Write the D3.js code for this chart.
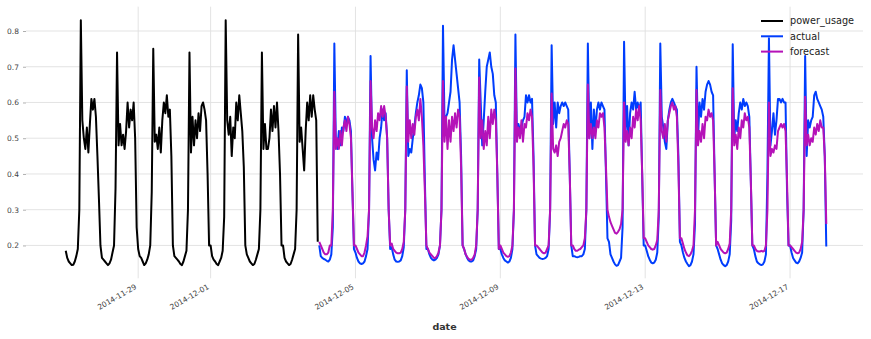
<!DOCTYPE html>
<html><head><meta charset="utf-8">
<script src="https://cdn.jsdelivr.net/npm/d3@7"></script>
<style>body{margin:0;background:#fff} svg{display:block}</style>
</head><body><svg id="c" width="871" height="339"></svg>
<script>
// ---------- data (hourly readings) ----------
const powerStart = "2014-11-27T00:00:00Z";
const forecastStart = "2014-12-04T00:00:00Z";

const powerUsage = [
0.185,0.165,0.155,0.15,0.145,0.146,0.155,0.17,0.19,0.3,0.83,0.55,0.5,0.47,0.53,0.46,0.54,0.61,0.58,0.61,0.56,0.45,0.33,0.2,
0.165,0.16,0.155,0.15,0.145,0.15,0.16,0.18,0.2,0.36,0.74,0.48,0.54,0.48,0.51,0.47,0.52,0.6,0.53,0.58,0.55,0.6,0.5,0.25,
0.19,0.17,0.165,0.155,0.145,0.15,0.16,0.175,0.2,0.35,0.75,0.49,0.51,0.47,0.53,0.46,0.55,0.6,0.57,0.62,0.56,0.58,0.45,0.2,
0.17,0.165,0.16,0.155,0.148,0.145,0.155,0.17,0.185,0.3,0.74,0.46,0.56,0.48,0.55,0.5,0.57,0.52,0.59,0.6,0.58,0.55,0.4,0.2,
0.2,0.17,0.16,0.155,0.148,0.145,0.155,0.165,0.185,0.28,0.83,0.55,0.51,0.56,0.45,0.53,0.5,0.6,0.55,0.62,0.57,0.52,0.42,0.2,
0.175,0.165,0.155,0.15,0.145,0.148,0.16,0.175,0.19,0.3,0.74,0.47,0.54,0.47,0.47,0.5,0.58,0.52,0.59,0.53,0.6,0.52,0.4,0.2,
0.2,0.165,0.155,0.15,0.145,0.148,0.16,0.175,0.19,0.3,0.79,0.49,0.53,0.47,0.41,0.52,0.6,0.55,0.62,0.56,0.62,0.58,0.55,0.21
];

const actual = [
0.2,0.17,0.165,0.162,0.16,0.157,0.155,0.16,0.175,0.25,0.765,0.49,0.47,0.52,0.48,0.53,0.52,0.56,0.54,0.56,0.55,0.52,0.35,0.19,
0.18,0.165,0.155,0.15,0.148,0.15,0.155,0.17,0.19,0.3,0.73,0.5,0.44,0.41,0.46,0.44,0.5,0.53,0.58,0.55,0.57,0.5,0.3,0.19,
0.195,0.175,0.16,0.155,0.154,0.155,0.158,0.17,0.195,0.3,0.69,0.45,0.47,0.46,0.5,0.53,0.57,0.6,0.62,0.65,0.64,0.6,0.38,0.19,
0.19,0.175,0.165,0.16,0.158,0.16,0.165,0.175,0.2,0.3,0.815,0.55,0.56,0.57,0.6,0.63,0.72,0.76,0.72,0.68,0.64,0.6,0.45,0.2,
0.19,0.175,0.165,0.158,0.155,0.155,0.158,0.17,0.19,0.3,0.72,0.6,0.48,0.55,0.63,0.7,0.72,0.74,0.7,0.68,0.62,0.6,0.4,0.19,
0.19,0.175,0.165,0.158,0.155,0.152,0.155,0.165,0.19,0.3,0.79,0.5,0.54,0.52,0.53,0.55,0.56,0.62,0.6,0.62,0.6,0.61,0.45,0.2,
0.175,0.17,0.165,0.163,0.162,0.163,0.165,0.17,0.19,0.3,0.76,0.54,0.6,0.53,0.6,0.57,0.59,0.6,0.59,0.6,0.59,0.58,0.4,0.2,
0.17,0.17,0.168,0.167,0.168,0.17,0.17,0.175,0.19,0.3,0.765,0.5,0.6,0.47,0.58,0.52,0.58,0.6,0.58,0.6,0.59,0.58,0.4,0.22,
0.21,0.175,0.165,0.155,0.147,0.143,0.145,0.155,0.165,0.25,0.77,0.52,0.59,0.48,0.57,0.6,0.58,0.63,0.58,0.6,0.58,0.6,0.4,0.2,
0.2,0.185,0.17,0.16,0.152,0.15,0.152,0.16,0.18,0.28,0.765,0.56,0.53,0.49,0.47,0.55,0.58,0.6,0.61,0.6,0.59,0.58,0.45,0.21,
0.2,0.18,0.165,0.155,0.148,0.142,0.145,0.155,0.175,0.26,0.7,0.5,0.6,0.56,0.61,0.58,0.63,0.65,0.66,0.65,0.63,0.62,0.4,0.2,
0.19,0.175,0.16,0.15,0.145,0.142,0.145,0.155,0.175,0.27,0.763,0.5,0.55,0.52,0.57,0.6,0.58,0.61,0.59,0.6,0.59,0.56,0.38,0.2,
0.19,0.17,0.155,0.15,0.147,0.145,0.147,0.155,0.175,0.4,0.78,0.48,0.52,0.57,0.51,0.55,0.61,0.61,0.6,0.61,0.6,0.6,0.35,0.2,
0.2,0.18,0.165,0.158,0.152,0.15,0.155,0.165,0.18,0.3,0.73,0.45,0.55,0.53,0.55,0.56,0.62,0.63,0.61,0.6,0.59,0.58,0.56,0.45,
0.197
];

const forecast = [
0.21,0.2,0.19,0.18,0.175,0.175,0.18,0.2,0.2,0.3,0.63,0.47,0.5,0.47,0.52,0.48,0.53,0.55,0.52,0.56,0.54,0.5,0.35,0.2,
0.2,0.19,0.18,0.175,0.17,0.17,0.18,0.2,0.225,0.3,0.66,0.53,0.5,0.55,0.52,0.57,0.55,0.59,0.56,0.59,0.56,0.5,0.3,0.2,
0.205,0.19,0.185,0.18,0.178,0.178,0.18,0.19,0.21,0.3,0.645,0.49,0.55,0.5,0.54,0.51,0.56,0.58,0.55,0.61,0.56,0.48,0.35,0.2,
0.19,0.18,0.175,0.17,0.165,0.165,0.17,0.18,0.2,0.3,0.66,0.49,0.56,0.47,0.55,0.49,0.56,0.52,0.57,0.53,0.58,0.56,0.42,0.2,
0.19,0.175,0.168,0.162,0.16,0.16,0.165,0.175,0.2,0.3,0.67,0.5,0.55,0.47,0.52,0.48,0.56,0.5,0.58,0.54,0.58,0.55,0.4,0.19,
0.2,0.19,0.18,0.175,0.17,0.168,0.17,0.18,0.2,0.3,0.695,0.49,0.53,0.5,0.55,0.49,0.54,0.53,0.57,0.55,0.58,0.56,0.42,0.2,
0.2,0.195,0.19,0.185,0.18,0.178,0.18,0.19,0.2,0.3,0.625,0.47,0.46,0.48,0.45,0.49,0.5,0.52,0.54,0.53,0.55,0.54,0.4,0.2,
0.2,0.19,0.185,0.185,0.188,0.19,0.195,0.2,0.22,0.3,0.65,0.5,0.54,0.5,0.53,0.5,0.55,0.53,0.57,0.56,0.57,0.53,0.42,0.3,
0.28,0.265,0.255,0.245,0.235,0.233,0.238,0.245,0.26,0.3,0.6,0.49,0.52,0.48,0.53,0.5,0.56,0.53,0.58,0.55,0.59,0.55,0.4,0.22,
0.22,0.21,0.2,0.195,0.19,0.188,0.19,0.2,0.215,0.3,0.635,0.52,0.5,0.54,0.49,0.55,0.57,0.59,0.6,0.58,0.59,0.56,0.42,0.22,
0.22,0.205,0.19,0.18,0.172,0.17,0.175,0.185,0.2,0.3,0.635,0.48,0.52,0.49,0.54,0.5,0.56,0.55,0.58,0.56,0.57,0.55,0.4,0.2,
0.21,0.2,0.19,0.185,0.18,0.178,0.18,0.19,0.205,0.3,0.64,0.48,0.51,0.47,0.53,0.5,0.55,0.53,0.57,0.55,0.56,0.53,0.38,0.2,
0.2,0.19,0.185,0.183,0.183,0.185,0.183,0.185,0.2,0.3,0.6,0.45,0.47,0.46,0.48,0.47,0.52,0.53,0.54,0.53,0.54,0.52,0.38,0.2,
0.2,0.195,0.19,0.185,0.18,0.178,0.18,0.19,0.21,0.3,0.616,0.48,0.51,0.48,0.5,0.49,0.53,0.51,0.54,0.52,0.55,0.53,0.53,0.45,
0.26
];

const xTickLabels = ["2014-11-29","2014-12-01","2014-12-05","2014-12-09","2014-12-13","2014-12-17"];
const yTickValues = [0.2,0.3,0.4,0.5,0.6,0.7,0.8];
const seriesNames = ["power_usage","actual","forecast"];
const seriesColors = ["#000000","#003DFD","#b512b8"];
const xAxisTitle = "date";

// ---------- layout ----------
const L = 26, R = 863, T = 6.7, B = 278.3;
const svg = d3.select("#c");
const HOUR = 3600e3;
const toPts = (start, vals) => { const t0 = +new Date(start); return vals.map((v,i)=>({t:new Date(t0+i*HOUR), v})); };
const seriesData = [toPts(powerStart, powerUsage), toPts(forecastStart, actual), toPts(forecastStart, forecast)];

const x = d3.scaleUtc().domain([new Date("2014-11-25T21:40:00Z"), new Date("2014-12-19T00:20:00Z")]).range([L, R]);
const y = d3.scaleLinear().domain([0.108, 0.868]).range([B, T]);
const FONT = "DejaVu Sans";

// grid
const grid = svg.append("g");
grid.selectAll("line.h").data(yTickValues).join("line")
  .attr("x1", L).attr("x2", R).attr("y1", d=>y(d)).attr("y2", d=>y(d))
  .attr("stroke", "#e0e0e0").attr("stroke-width", 0.9);
const xTicks = xTickLabels.map(s => new Date(s + "T00:00:00Z"));
grid.selectAll("line.v").data(xTicks).join("line")
  .attr("x1", d=>x(d)).attr("x2", d=>x(d)).attr("y1", T).attr("y2", B)
  .attr("stroke", "#e0e0e0").attr("stroke-width", 0.9);

// y axis
const yAxis = svg.append("g").attr("transform", `translate(${L},0)`)
  .call(d3.axisLeft(y).tickValues(yTickValues).tickSize(3).tickPadding(4).tickFormat(d3.format(".1f")));
yAxis.select(".domain").remove();
yAxis.selectAll(".tick line").attr("stroke", "#9a9a9a").attr("stroke-width", 0.8);
yAxis.selectAll(".tick text").attr("font-family", FONT).attr("font-size", 7.5).attr("fill", "#444");

// x axis
const xAxis = svg.append("g").attr("transform", `translate(0,${B})`)
  .call(d3.axisBottom(x).tickValues(xTicks).tickSize(0).tickFormat(d3.utcFormat("%Y-%m-%d")));
xAxis.select(".domain").remove();
xAxis.selectAll(".tick text")
  .attr("font-family", FONT).attr("font-size", 7.5).attr("fill", "#444")
  .attr("y", 0).attr("dy", null).attr("text-anchor", "end")
  .attr("transform", "translate(-1.5,10) rotate(-30)");

svg.append("text").attr("x", (L+R)/2).attr("y", 329.5).attr("text-anchor", "middle")
  .attr("font-family", FONT).attr("font-size", 9.5).attr("font-weight", "bold").attr("fill", "#333")
  .text(xAxisTitle);

// lines
const line = d3.line().x(d=>x(d.t)).y(d=>y(d.v));
seriesData.forEach((data, i) => {
  svg.append("path").datum(data).attr("d", line)
    .attr("fill", "none").attr("stroke", seriesColors[i]).attr("stroke-width", 2)
    .attr("stroke-linejoin", "round");
});

// legend
const leg = svg.append("g");
const legY = [21, 36.3, 51.6];
seriesNames.forEach((n, i) => {
  leg.append("line").attr("x1", 761).attr("x2", 783).attr("y1", legY[i]).attr("y2", legY[i])
    .attr("stroke", seriesColors[i]).attr("stroke-width", 2);
  leg.append("text").attr("x", 790).attr("y", legY[i] + 3.4)
    .attr("font-family", FONT).attr("font-size", 9.7).attr("fill", "#222").text(n);
});
</script></body></html>
